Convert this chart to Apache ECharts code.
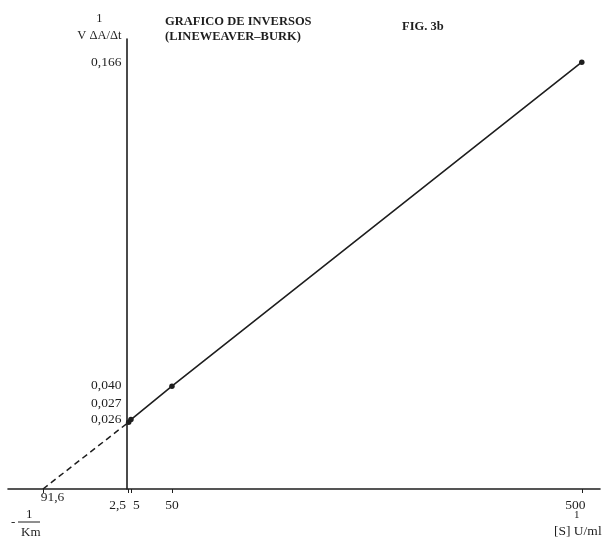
<!DOCTYPE html>
<html>
<head>
<meta charset="utf-8">
<script src="https://cdn.jsdelivr.net/npm/echarts@6/dist/echarts.min.js"></script>
<style>
html,body{margin:0;padding:0;background:#fff;}
#chart{width:608px;height:539px;}
</style>
</head>
<body>
<div id="chart"></div>
<script>
// Data (Lineweaver-Burk plot)
const substrateInverse = [2.5, 5, 50, 500];          // 1/[S]
const velocityInverse = [0.026, 0.027, 0.040, 0.166]; // 1/v
const xIntercept = -91.6;                              // -1/Km
const xTickValues = [-91.6, 2.5, 5, 50, 500];
const xTickLabels = ['91,6', '2,5', '5', '50', '500'];
const yTickValues = [0.026, 0.027, 0.040, 0.166];
const yTickLabels = ['0,026', '0,027', '0,040', '0,166'];

const FONT = '"Liberation Serif", "Times New Roman", serif';
const INK = '#1e1e1e';
const GRID_LEFT = 8;
const FS = 13.5;

const solidData = substrateInverse.map((x, i) => [x, velocityInverse[i]]);
const dashedData = [[xIntercept, 0], [substrateInverse[0], velocityInverse[0]]];

function tok(pad) {
  return {fontFamily: FONT, fontSize: FS, color: INK, padding: pad};
}

const chart = echarts.init(document.getElementById('chart'));
chart.setOption({
  backgroundColor: '#fff',
  animation: false,
  title: [
    {
      text: 'GRAFICO DE INVERSOS\n(LINEWEAVER\u2013BURK)',
      left: 165, top: 14, padding: 0,
      textStyle: {fontFamily: FONT, fontSize: 12.5, fontWeight: 'bold', color: INK, lineHeight: 15}
    },
    {
      text: 'FIG. 3b',
      left: 402, top: 20, padding: 0,
      textStyle: {fontFamily: FONT, fontSize: 12.5, fontWeight: 'bold', color: INK}
    }
  ],
  grid: {left: GRID_LEFT, right: 8, top: 39, bottom: 50, containLabel: false, outerBoundsMode: 'none'},
  xAxis: {
    type: 'value',
    min: -130, max: 520,
    splitLine: {show: false},
    axisLine: {onZero: true, lineStyle: {color: INK, width: 1.6}},
    axisTick: {show: true, customValues: xTickValues, length: 4, lineStyle: {color: INK, width: 1}},
    axisLabel: {
      customValues: xTickValues,
      margin: 1,
      fontFamily: FONT, fontSize: FS, color: INK,
      formatter: function (v) {
        const i = xTickValues.indexOf(v);
        return '{t' + i + '|' + xTickLabels[i] + '}';
      },
      rich: {
        t0: tok([0, 0, 0, 19]),
        t1: tok([8, 22, 0, 0]),
        t2: tok([8, 0, 0, 11]),
        t3: tok([8, 0, 0, 0]),
        t4: tok([8, 13, 0, 0])
      }
    }
  },
  yAxis: {
    type: 'value',
    min: 0, max: 0.175,
    offset: 0,
    name: '{a|1}\n{b|V \u0394A/\u0394t}',
    nameLocation: 'end',
    nameGap: -5,
    nameTextStyle: {
      align: 'right', verticalAlign: 'bottom', padding: [0, 1, 0, 0],
      rich: {
        a: {fontFamily: FONT, fontSize: 12.5, color: INK, width: 52, align: 'center', lineHeight: 17},
        b: {fontFamily: FONT, fontSize: 12.5, color: INK, width: 52, align: 'center', lineHeight: 17}
      }
    },
    splitLine: {show: false},
    axisLine: {onZero: false, lineStyle: {color: INK, width: 1.6}},
    axisTick: {show: false},
    axisLabel: {
      customValues: yTickValues,
      margin: 5,
      fontFamily: FONT, fontSize: FS, color: INK,
      formatter: function (v) {
        const i = yTickValues.indexOf(v);
        return '{s' + i + '|' + yTickLabels[i] + '}';
      },
      rich: {
        s0: tok([0, 0, 6, 0]),
        s1: tok([0, 0, 33, 0]),
        s2: tok([0, 0, 2, 0]),
        s3: tok([0, 0, 0, 0])
      }
    }
  },
  series: [
    {
      name: 'extrapolation',
      type: 'line',
      data: dashedData,
      symbol: 'none',
      lineStyle: {color: INK, width: 1.5, type: [6, 4]},
      z: 2
    },
    {
      name: 'data',
      type: 'line',
      data: solidData,
      symbol: 'circle',
      symbolSize: 5.5,
      itemStyle: {color: INK},
      lineStyle: {color: INK, width: 1.6},
      z: 3
    }
  ],
  graphic: [
    {type: 'text', left: 11, top: 516, style: {text: '-', font: '13px ' + FONT, fill: INK}},
    {type: 'text', left: 26, top: 508, style: {text: '1', font: '13px ' + FONT, fill: INK}},
    {type: 'line', shape: {x1: 18, y1: 522, x2: 40, y2: 522}, style: {stroke: INK, lineWidth: 1}},
    {type: 'text', left: 21, top: 526, style: {text: 'Km', font: '13px ' + FONT, fill: INK}},
    {type: 'text', left: 574, top: 510, style: {text: '1', font: '11px ' + FONT, fill: INK}},
    {type: 'text', left: 554, top: 524, style: {text: '[S] U/ml', font: '13.5px ' + FONT, fill: INK}}
  ]
});

// Move the y axis (line, labels and name) to x = 0, using the x axis scale.
const zeroPx = chart.convertToPixel({xAxisIndex: 0}, 0);
chart.setOption({yAxis: {offset: GRID_LEFT - zeroPx}});
</script>
</body>
</html>
